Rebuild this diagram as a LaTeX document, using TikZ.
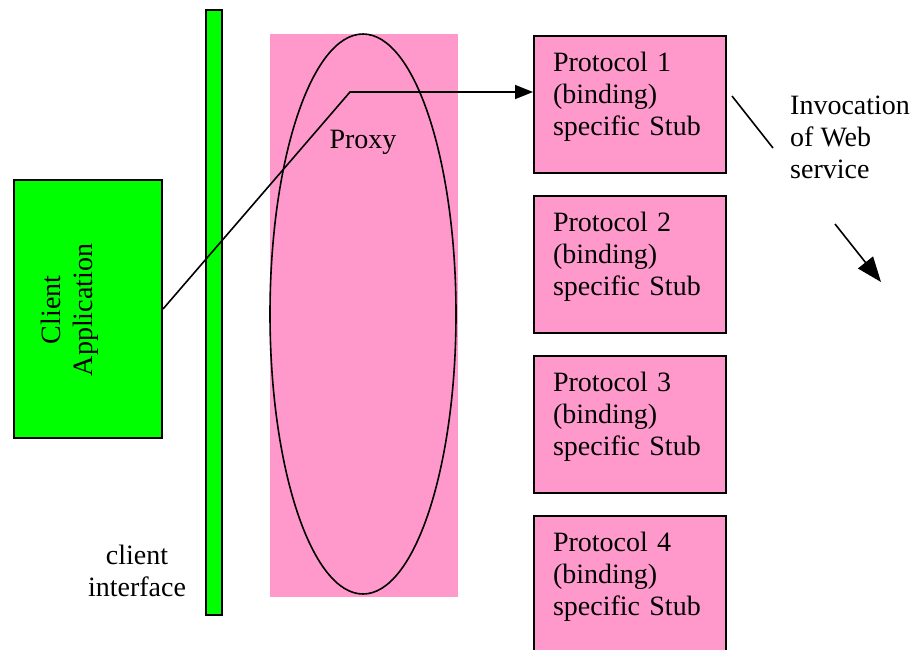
\documentclass[tikz,border=0pt]{standalone}
\usepackage{fontspec}
\setmainfont{Liberation Serif}
\usetikzlibrary{shapes.geometric, arrows.meta}
\definecolor{stubpink}{HTML}{FF99CC}
\definecolor{appgreen}{HTML}{00FF00}
\newcommand{\stubtext}[1]{\raisebox{0pt}[\height][\dimexpr\depth+14pt\relax]{\begin{tabular}{@{}l@{}}Protocol #1\\(binding)\\specific Stub\end{tabular}}}
\begin{document}
\begin{tikzpicture}[x=1pt, y=-1pt, >={Triangle[length=18pt, width=14pt]},
    every node/.style={font=\fontsize{28pt}{32pt}\selectfont},
    stub/.style={draw, rectangle, line width=2pt, fill=stubpink, minimum width=192pt, minimum height=137pt, text width=154pt, inner xsep=19pt, align=left},
    textonly/.style={inner sep=0pt, align=center}]
    \useasboundingbox (0, 0) rectangle (918, 649);

    % Nodes
    \node[rectangle, fill=stubpink, minimum width=188pt, minimum height=563pt, inner sep=0pt] at (364, 315.5) (proxybg) {};
    \node[ellipse, draw, line width=1.6pt, minimum width=186pt, minimum height=560pt, inner sep=0pt] at (363, 314) (proxy) {};
    \node[textonly] at (363, 142) (proxylabel) {Proxy};

    \node[rectangle, draw, line width=2pt, fill=appgreen, minimum width=148pt, minimum height=258pt, inner sep=0pt] at (88, 309) (app) {};
    \node[textonly, rotate=90] at (70, 310) (applabel) {Client\\Application};

    \node[rectangle, draw, line width=2pt, fill=appgreen, minimum width=16pt, minimum height=605pt, inner sep=0pt] at (214, 312.5) (iface) {};
    \node[textonly] at (137, 571) (ifacelabel) {client\\interface};

    \node[stub] at (630, 104.5) (stub1) {\stubtext{1}};
    \node[stub] at (630, 264.5) (stub2) {\stubtext{2}};
    \node[stub] at (630, 424.5) (stub3) {\stubtext{3}};
    \node[stub] at (630, 584.5) (stub4) {\stubtext{4}};

    \node[textonly, align=left, anchor=west] at (790, 137) (invoke) {Invocation\\of Web\\service};

    \coordinate (bend) at (350, 92);
    \coordinate (inva) at (732, 96);
    \coordinate (invb) at (773, 148);
    \coordinate (outa) at (835, 224);
    \coordinate (outb) at (881, 282);

    % Edges
    \draw[->, line width=1.6pt] (app.east) -- (bend) -- (bend -| stub1.west);
    \draw[line width=1.6pt] (inva) -- (invb);
    \draw[-{Triangle[length=25pt, width=19pt]}, line width=1.6pt] (outa) -- (outb);
\end{tikzpicture}
\end{document}
